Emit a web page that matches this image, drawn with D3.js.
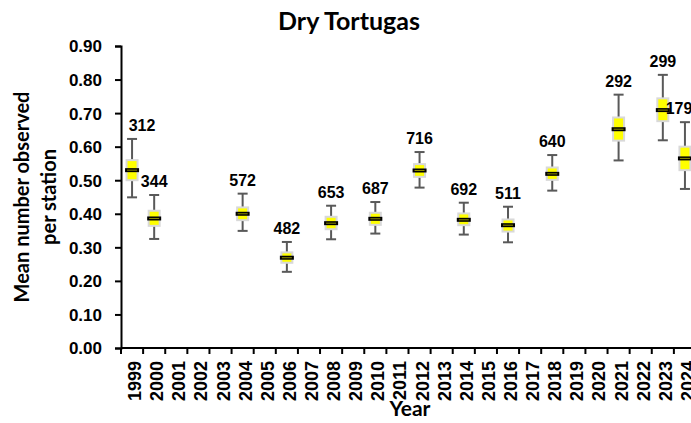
<!DOCTYPE html>
<html>
<head>
<meta charset="utf-8">
<script src="https://cdn.jsdelivr.net/npm/d3@7"></script>
<style>
  body { margin: 0; background: #fff; }
  svg { display: block; }
  .tick-lab { font-family: "Liberation Sans", Arial, sans-serif; font-weight: bold; font-size: 16px; fill: #000; }
  .ttl { font-family: Lato, "Open Sans", sans-serif; font-weight: bold; fill: #000; }
</style>
</head>
<body>
<div class="container"></div>
<script>
// all categories on the x axis
const years = d3.range(1999, 2025).map(String);
// sampled years and their stats
const sampled = ["1999", "2000", "2004", "2006", "2008", "2010", "2012", "2014", "2016", "2018", "2021", "2023", "2024"];
const medians = [0.530, 0.386, 0.400, 0.269, 0.372, 0.385, 0.529, 0.382, 0.366, 0.519, 0.652, 0.709, 0.565];
const boxLow = [0.500, 0.364, 0.381, 0.254, 0.354, 0.367, 0.510, 0.366, 0.347, 0.501, 0.618, 0.676, 0.530];
const boxHigh = [0.560, 0.409, 0.419, 0.285, 0.391, 0.403, 0.548, 0.401, 0.383, 0.538, 0.687, 0.744, 0.600];
const whiskLow = [0.449, 0.325, 0.349, 0.227, 0.324, 0.341, 0.478, 0.338, 0.315, 0.469, 0.559, 0.619, 0.474];
const whiskHigh = [0.623, 0.456, 0.460, 0.316, 0.424, 0.435, 0.584, 0.433, 0.421, 0.575, 0.755, 0.814, 0.673];
const nStations = [312, 344, 572, 482, 653, 687, 716, 692, 511, 640, 292, 299, 179];
const yTicks = d3.range(0, 0.91, 0.1);

const W = 691, H = 423;
const x0 = 121, x1 = 696, yBot = 348, yTop = 46;

const svg = d3.select(".container").append("svg")
  .attr("width", W).attr("height", H);

const x = d3.scaleBand().domain(years).range([x0, x1]);
const y = d3.scaleLinear().domain([0, 0.9]).range([yBot, yTop]);

// title
svg.append("text").attr("class", "ttl")
  .attr("x", 349).attr("y", 30).attr("text-anchor", "middle")
  .style("font-size", "25px").text("Dry Tortugas");

// y axis
const yAxis = svg.append("g").attr("transform", `translate(${x0},0)`)
  .call(d3.axisLeft(y).tickValues(yTicks).tickFormat(d3.format(".2f"))
    .tickSizeOuter(0).tickSize(6).tickPadding(13));
yAxis.select(".domain").attr("stroke", "#000").attr("stroke-width", 2);
yAxis.selectAll(".tick line").attr("stroke", "#000").attr("stroke-width", 2);
yAxis.selectAll(".tick text").attr("class", "tick-lab")
  .style("font-size", "17px").attr("dy", "0.35em");

// x axis, ticks on category boundaries
const xAxis = svg.append("g").attr("transform", `translate(0,${yBot})`);
xAxis.append("line").attr("x1", x0).attr("x2", x1)
  .attr("stroke", "#000").attr("stroke-width", 2);
xAxis.selectAll(".xt").data(years).join("line")
  .attr("x1", d => x(d)).attr("x2", d => x(d))
  .attr("y1", 0).attr("y2", 6)
  .attr("stroke", "#000").attr("stroke-width", 2);
xAxis.selectAll(".xl").data(years).join("text")
  .attr("class", "tick-lab")
  .style("font-size", "18px")
  .attr("transform", d => `translate(${x(d) + x.bandwidth() / 2 + 9},13) rotate(-90)`)
  .attr("text-anchor", "end")
  .text(d => d);

// axis titles
const yt = svg.append("text").attr("class", "ttl")
  .attr("transform", "translate(29,197) rotate(-90)")
  .attr("text-anchor", "middle").style("font-size", "20px");
yt.append("tspan").attr("x", 0).attr("dy", 0).text("Mean number observed");
yt.append("tspan").attr("x", 0).attr("dy", "1.35em").text("per station");

svg.append("text").attr("class", "ttl")
  .attr("x", 410).attr("y", 416).attr("text-anchor", "middle")
  .style("font-size", "21px").text("Year");

// boxes
const cx = d => x(d) + x.bandwidth() / 2;
const g = svg.append("g").selectAll("g").data(sampled).join("g")
  .attr("transform", d => `translate(${cx(d)},0)`);

g.append("line")
  .attr("y1", (d, i) => y(whiskLow[i])).attr("y2", (d, i) => y(whiskHigh[i]))
  .attr("stroke", "#595959").attr("stroke-width", 2);
g.append("line").attr("x1", -5).attr("x2", 5)
  .attr("y1", (d, i) => y(whiskHigh[i])).attr("y2", (d, i) => y(whiskHigh[i]))
  .attr("stroke", "#595959").attr("stroke-width", 2);
g.append("line").attr("x1", -5).attr("x2", 5)
  .attr("y1", (d, i) => y(whiskLow[i])).attr("y2", (d, i) => y(whiskLow[i]))
  .attr("stroke", "#595959").attr("stroke-width", 2);

g.append("rect")
  .attr("x", -5.5).attr("width", 11)
  .attr("y", (d, i) => y(boxHigh[i]))
  .attr("height", (d, i) => y(boxLow[i]) - y(boxHigh[i]))
  .attr("fill", "#ffff00").attr("stroke", "#d9d9d9").attr("stroke-width", 2);

g.append("rect")
  .attr("x", -7).attr("width", 14)
  .attr("y", (d, i) => y(medians[i]) - 2).attr("height", 4)
  .attr("fill", "#000");
g.append("line").attr("x1", -5).attr("x2", 5)
  .attr("y1", (d, i) => y(medians[i])).attr("y2", (d, i) => y(medians[i]))
  .attr("stroke", "#8c8c00").attr("stroke-width", 1);

// station counts above whiskers, kept inside the plot area
g.append("text").attr("class", "tick-lab")
  .attr("text-anchor", "middle")
  .attr("x", function(d) {
    const c = cx(d);
    if (c - 14 < x0 + 7) return x0 + 21 - c;
    if (c + 14 > W + 2) return W - 12 - c;
    return 0;
  })
  .attr("y", (d, i) => y(whiskHigh[i]) - 8)
  .text((d, i) => nStations[i]);
</script>
</body>
</html>
